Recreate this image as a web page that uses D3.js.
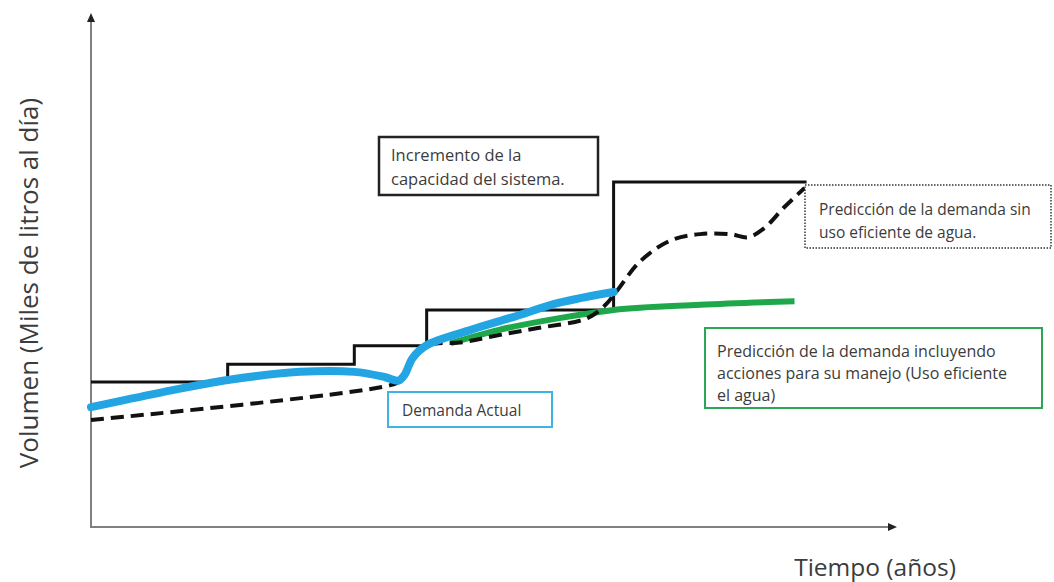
<!DOCTYPE html>
<html>
<head>
<meta charset="utf-8">
<script src="https://d3js.org/d3.v7.min.js"></script>
<style>
  body { margin: 0; background: #fff; }
  svg text { font-family: "Open Sans", Lato, sans-serif; fill: #3c3c3c; }
</style>
</head>
<body>
<div id="chart"></div>
<script>
// years (arbitrary units) and volume (arbitrary units)
var capacityX = [0, 6.8, 13.1, 16.7, 26.0, 35.6];
var capacityY = [28.3, 31.8, 35.4, 42.4, 67.4, 67.4];

var actualX = [0, 3.4, 6.8, 10.4, 13.1, 14.6, 15.3, 15.6, 16.0, 16.7, 18.9, 21.0, 23.3, 26.0];
var actualY = [23.4, 26.2, 28.7, 30.3, 30.3, 29.3, 28.6, 29.7, 33.0, 35.5, 38.5, 41.0, 43.8, 45.9];

var noEffX = [0, 14.9, 15.4, 16.6, 18.5, 20.3, 22.3, 24.7, 25.6, 26.2, 27.3, 28.8, 30.3, 31.8, 32.7, 33.5, 34.5, 35.5];
var noEffY = [20.9, 27.7, 28.7, 35.2, 36.1, 37.5, 38.9, 40.8, 43.4, 46.3, 51.8, 55.9, 57.2, 57.2, 56.6, 58.4, 62.5, 66.2];

var effX = [17.9, 20.3, 23.3, 26.0, 30.3, 35.0];
var effY = [35.9, 38.5, 40.8, 42.4, 43.4, 44.1];

var capacityText = ["Incremento de la", "capacidad del sistema."];
var noEffText = ["Predicción de la demanda sin", "uso eficiente de agua."];
var effText = ["Predicción de la demanda incluyendo", "acciones para su manejo (Uso eficiente", "el agua)"];
var actualText = ["Demanda Actual"];
var xTitle = "Tiempo (años)";
var yTitle = "Volumen (Miles de litros al día)";

var width = 1054, height = 582;
var svg = d3.select("#chart").append("svg")
    .attr("width", width)
    .attr("height", height);

var x = d3.scaleLinear().domain([0, 40]).range([91, 895]);
var y = d3.scaleLinear().domain([0, 100]).range([527, 15]);

function zip(xs, ys){
    return xs.map(function (d, i){ return [d, ys[i]]; });
}

// axes with arrow heads
var axisColor = "#808080";
svg.append("line")
    .attr("x1", x(0)).attr("y1", y(0))
    .attr("x2", x(0)).attr("y2", y(100) + 6)
    .attr("stroke", axisColor).attr("stroke-width", 2);
svg.append("line")
    .attr("x1", x(0) - 1).attr("y1", y(0))
    .attr("x2", x(40) - 6).attr("y2", y(0))
    .attr("stroke", axisColor).attr("stroke-width", 2);
svg.append("path")
    .attr("d", "M" + x(0) + "," + (y(100) - 2) + " l-4,9 l8,0 z")
    .attr("fill", "#222");
svg.append("path")
    .attr("d", "M" + (x(40) + 2) + "," + y(0) + " l-9,-4 l0,8 z")
    .attr("fill", "#222");

svg.append("text")
    .attr("transform", "translate(38,283) rotate(-90)")
    .attr("text-anchor", "middle")
    .style("font-size", "26px")
    .text(yTitle);
svg.append("text")
    .attr("x", 875).attr("y", 576)
    .attr("text-anchor", "middle")
    .style("font-size", "24.5px")
    .text(xTitle);

var line = d3.line()
    .x(function (d){ return x(d[0]); })
    .y(function (d){ return y(d[1]); });

// capacity steps
svg.append("path")
    .datum(zip(capacityX, capacityY))
    .attr("d", line.curve(d3.curveStepAfter))
    .attr("fill", "none")
    .attr("stroke", "#111")
    .attr("stroke-width", 3);

// efficient-use prediction
svg.append("path")
    .datum(zip(effX, effY))
    .attr("d", line.curve(d3.curveMonotoneX))
    .attr("fill", "none")
    .attr("stroke", "#1fa84a")
    .attr("stroke-width", 6);

// prediction without efficient use
svg.append("path")
    .datum(zip(noEffX, noEffY))
    .attr("d", line.curve(d3.curveCatmullRom))
    .attr("fill", "none")
    .attr("stroke", "#111")
    .attr("stroke-width", 4)
    .attr("stroke-dasharray", "13,7");

// actual demand
svg.append("path")
    .datum(zip(actualX, actualY))
    .attr("d", line.curve(d3.curveCatmullRom))
    .attr("fill", "none")
    .attr("stroke", "#22a5e2")
    .attr("stroke-width", 8)
    .attr("stroke-linecap", "round");

// annotation boxes
function box(x0, y0, w, h, stroke, sw, dash, lines, tx, ty, lh, fs){
    svg.append("rect")
        .attr("x", x0).attr("y", y0)
        .attr("width", w).attr("height", h)
        .attr("fill", "#fff")
        .attr("stroke", stroke)
        .attr("stroke-width", sw)
        .attr("stroke-dasharray", dash);
    lines.forEach(function (t, i){
        svg.append("text")
            .attr("x", tx).attr("y", ty + i * lh)
            .style("font-size", fs + "px")
            .text(t);
    });
}

box(379, 137, 219, 58, "#222", 2.5, null, capacityText, 391, 161, 24, 16.5);
box(805, 185, 246, 63, "#333", 1.5, "1.5,1.5", noEffText, 819, 215, 23, 15.5);
box(705, 328, 337, 80, "#2aa655", 2, null, effText, 717, 357, 22, 16);
box(388, 392, 164, 35, "#3cb4e5", 2, null, actualText, 402, 416, 0, 15.5);
</script>
</body>
</html>
